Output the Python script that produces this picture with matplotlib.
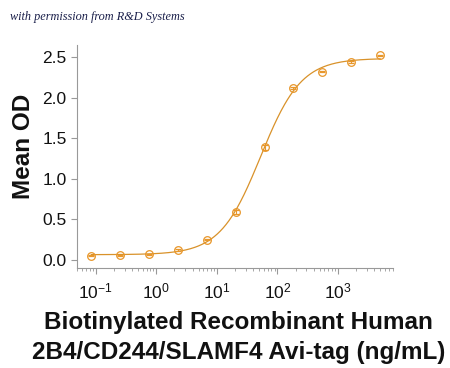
import numpy as np
import matplotlib
matplotlib.use("Agg")
import matplotlib.pyplot as plt
from matplotlib.ticker import LogLocator, NullFormatter

plt.rcParams['font.family'] = ['Liberation Sans', 'DejaVu Sans']
plt.rcParams['mathtext.fontset'] = 'custom'
plt.rcParams['mathtext.rm'] = 'Liberation Sans'
plt.rcParams['mathtext.it'] = 'Liberation Sans:italic'
plt.rcParams['mathtext.bf'] = 'Liberation Sans:bold'
plt.rcParams['axes.unicode_minus'] = False

conc = [0.0847, 0.254, 0.762, 2.29, 6.86, 20.6, 61.7, 185, 556, 1667, 5000]
mean_od = [0.05, 0.055, 0.07, 0.12, 0.25, 0.59, 1.39, 2.12, 2.32, 2.44, 2.52]
od_err = [0.005, 0.005, 0.005, 0.01, 0.01, 0.02, 0.03, 0.01, 0.01, 0.01, 0.01]

x = np.array(conc)
y = np.array(mean_od)

# 4-parameter logistic fit (damped Gauss-Newton)
def f4(p, xx):
    b, t, lc, h = p
    return b + (t - b) / (1 + np.exp(h * (lc - np.log(xx))))

p = np.array([0.05, 2.5, np.log(50.0), 1.3])
lam = 1e-3
for _ in range(200):
    r = y - f4(p, x)
    J = np.zeros((len(x), 4))
    for i in range(4):
        dp = np.zeros(4); dp[i] = 1e-6
        J[:, i] = (f4(p + dp, x) - f4(p - dp, x)) / 2e-6
    A = J.T @ J + lam * np.eye(4)
    step = np.linalg.solve(A, J.T @ r)
    pn = p + step
    if np.sum((y - f4(pn, x))**2) < np.sum(r**2):
        p = pn; lam *= 0.5
    else:
        lam *= 4

fig = plt.figure(figsize=(4.5, 3.68), dpi=100)
ax = fig.add_axes([0.171, 0.272, 0.702, 0.606])

orange = '#E8972B'
xs = np.logspace(np.log10(0.0847), np.log10(5000), 400)
ax.plot(xs, f4(p, xs), color='#D9922A', lw=0.9)
ax.errorbar(x, y, yerr=od_err, fmt='o', mfc='none', mec=orange, ms=5.5, mew=0.9,
            ecolor=orange, elinewidth=0.8, capsize=2.5, capthick=0.8)

ax.set_xscale('log')
ax.set_xlim(0.049, 8100)
ax.set_ylim(-0.1, 2.65)
ax.set_yticks([0.0, 0.5, 1.0, 1.5, 2.0, 2.5])
ax.set_yticklabels(['0.0', '0.5', '1.0', '1.5', '2.0', '2.5'])
ax.set_xticks([0.1, 1, 10, 100, 1000])
ax.set_xticklabels([r'$\mathregular{10^{-1}}$', r'$\mathregular{10^{0}}$', r'$\mathregular{10^{1}}$',
                    r'$\mathregular{10^{2}}$', r'$\mathregular{10^{3}}$'])
ax.xaxis.set_minor_locator(LogLocator(base=10, subs=np.arange(2, 10), numticks=20))
ax.xaxis.set_minor_formatter(NullFormatter())

for s in ['top', 'right']:
    ax.spines[s].set_visible(False)
for s in ['left', 'bottom']:
    ax.spines[s].set_color('#999999')
    ax.spines[s].set_linewidth(0.8)
ax.tick_params(axis='both', which='major', labelsize=12.5, color='#999999', length=4, width=0.8, labelcolor='#111111')
ax.tick_params(axis='x', which='minor', color='#999999', length=2, width=0.6)
ax.tick_params(axis='x', pad=6)

fig.text(0.53, 1 - 323 / 368, 'Biotinylated Recombinant Human',
         ha='center', va='center', fontsize=17.5, fontweight='bold', color='#111111')
fig.text(0.53, 1 - 353 / 368, '2B4/CD244/SLAMF4 Avi-tag (ng/mL)',
         ha='center', va='center', fontsize=17.5, fontweight='bold', color='#111111')
fig.text(0.052, 1 - 146 / 368, 'Mean OD', rotation=90, ha='center', va='center',
         fontsize=17.5, fontweight='bold', color='#111111')
fig.text(0.022, 0.953, 'with permission from R&D Systems', ha='left', va='center',
         fontsize=8.8, style='italic', family=['Liberation Serif', 'DejaVu Serif'], color='#1a1f4a')

fig.savefig('out.png', dpi=100)
